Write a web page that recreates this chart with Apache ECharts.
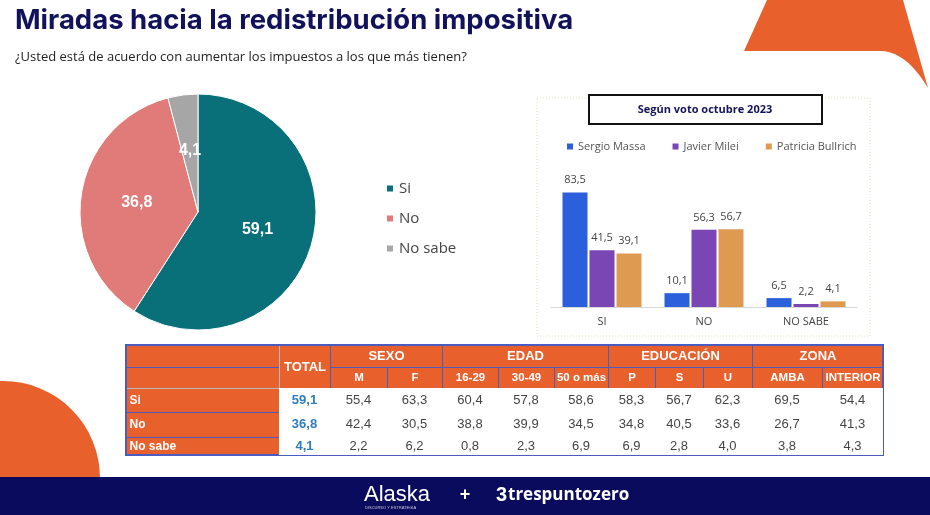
<!DOCTYPE html>
<html>
<head>
<meta charset="utf-8">
<script src="https://cdn.jsdelivr.net/npm/echarts@6/dist/echarts.min.js"></script>
<style>
  html, body { margin: 0; padding: 0; background: #fff; }
  #chart { width: 930px; height: 515px; }
</style>
</head>
<body>
<div id="chart"></div>
<script>
// respuestas generales
const respuestas = ['Si', 'No', 'No sabe']
const totales = [59.1, 36.8, 4.1]

// según voto octubre 2023
const votoCategorias = ['SI', 'NO', 'NO SABE']
const candidatos = ['Sergio Massa', 'Javier Milei', 'Patricia Bullrich']
const massa = [83.5, 10.1, 6.5]
const milei = [41.5, 56.3, 2.2]
const bullrich = [39.1, 56.7, 4.1]

// cruces de la tabla
const grupos = ['SEXO', 'EDAD', 'EDUCACIÓN', 'ZONA']
const subgrupos = [['M', 'F'], ['16-29', '30-49', '50 o más'], ['P', 'S', 'U'], ['AMBA', 'INTERIOR']]
const filaSi = [55.4, 63.3, 60.4, 57.8, 58.6, 58.3, 56.7, 62.3, 69.5, 54.4]
const filaNo = [42.4, 30.5, 38.8, 39.9, 34.5, 34.8, 40.5, 33.6, 26.7, 41.3]
const filaNoSabe = [2.2, 6.2, 0.8, 2.3, 6.9, 6.9, 2.8, 4.0, 3.8, 4.3]

// layout de la tabla (px)
const colWidths = [51, 57, 55, 56, 56, 54, 47, 48, 49, 70, 61]
const rowHeights = [24, 25, 18]

const naranja = '#e8602c'
const azulBorde = '#4b5cc0'
const fmt = v => v.toFixed(1).replace('.', ',')

const chart = echarts.init(document.getElementById('chart'), null, { renderer: 'canvas' })

const subLabel = { fontSize: 11.5, overflow: 'none' }
const xData = [{ value: 'TOTAL', size: colWidths[0] }]
let k = 1
grupos.forEach((g, i) => {
  xData.push({
    value: g,
    children: subgrupos[i].map(s => ({ value: s, size: colWidths[k++], label: subLabel }))
  })
})
const yData = respuestas.map((r, i) => ({ value: r, size: rowHeights[i] }))

const hojas = subgrupos.flat()
const filas = [filaSi, filaNo, filaNoSabe]
const crucesData = filas.flatMap((fila, ri) => fila.map((v, ci) => [hojas[ci], respuestas[ri], v]))
const totalData = totales.map((v, i) => ['TOTAL', respuestas[i], v])

// forma decorativa arriba a la derecha (borde inferior curvo)
const formaPts = [[767, 0], [903, 0], [928, 88]]
for (let t = 0.1; t < 1; t += 0.1) {
  const a = (1 - t) * (1 - t), b = 2 * t * (1 - t), c = t * t
  formaPts.push([a * 928 + b * 906 + c * 880, a * 88 + b * 51 + c * 51])
}
formaPts.push([880, 51], [744, 51])

const option = {
  animation: false,
  textStyle: { fontFamily: 'Liberation Sans' },
  title: [{
    text: 'Miradas hacia la redistribución impositiva',
    left: 10, top: 2,
    textStyle: { fontFamily: 'Inter', fontSize: 27.5, fontWeight: 'bold', color: '#12125c' },
    subtext: '¿Usted está de acuerdo con aumentar los impuestos a los que más tienen?',
    subtextStyle: { fontFamily: 'Open Sans', fontSize: 13, color: '#222' },
    itemGap: 16
  }],
  legend: [{
    data: respuestas,
    orient: 'vertical',
    left: 380, top: 176,
    icon: 'rect', itemWidth: 8, itemHeight: 8, itemGap: 15,
    textStyle: { fontFamily: 'Open Sans', fontSize: 15, color: '#444' }
  }, {
    data: candidatos,
    left: 562, top: 136,
    icon: 'rect', itemWidth: 6, itemHeight: 6, itemGap: 27,
    textStyle: { fontFamily: 'Open Sans', fontSize: 11, color: '#555' }
  }],
  grid: [{ left: 551, right: 73, top: 170, bottom: 208 }],
  xAxis: [{
    type: 'category', data: votoCategorias, gridIndex: 0,
    axisLine: { lineStyle: { color: '#d9d9d9' } },
    axisTick: { show: false },
    axisLabel: { fontFamily: 'Open Sans', fontSize: 11, color: '#444', margin: 9 }
  }],
  yAxis: [{ type: 'value', gridIndex: 0, min: 0, max: 100, show: false }],
  matrix: {
    left: 126, top: 345, width: 757, height: 110,
    x: {
      data: xData,
      levels: [{ levelSize: 22 }, { levelSize: 21 }],
      label: { color: '#fff', fontWeight: 'bold', fontSize: 13, overflow: 'none' },
      itemStyle: { color: naranja, borderColor: azulBorde, borderWidth: 1 }
    },
    y: {
      data: yData,
      levelSize: 153,
      label: { color: '#fff', fontWeight: 'bold', fontSize: 12, position: 'insideLeft', padding: [0, 0, 0, 3] },
      itemStyle: { color: naranja, borderColor: azulBorde, borderWidth: 1 }
    },
    corner: { itemStyle: { color: naranja, borderColor: azulBorde, borderWidth: 1 } },
    body: { itemStyle: { color: '#fff', borderColor: azulBorde, borderWidth: 1 } },
    backgroundStyle: { borderColor: azulBorde, borderWidth: 2 }
  },
  series: [{
    type: 'pie',
    name: 'Respuestas',
    center: [198, 212], radius: 118,
    startAngle: 90, clockwise: true,
    color: ['#09707a', '#e07b79', '#a6a6a6'],
    itemStyle: { borderColor: '#fff', borderWidth: 1 },
    label: {
      position: 'inside', formatter: p => fmt(p.value),
      color: '#fff', fontSize: 16, fontWeight: 'bold', fontFamily: 'Liberation Sans'
    },
    labelLine: { show: false },
    data: respuestas.map((r, i) => ({ name: r, value: totales[i] }))
  },
  ...[massa, milei, bullrich].map((d, i) => ({
    type: 'bar',
    name: candidatos[i],
    xAxisIndex: 0, yAxisIndex: 0,
    barWidth: 25, barGap: '8%',
    itemStyle: { color: ['#2b5fdc', '#7a46b4', '#de9a50'][i] },
    label: {
      show: true, position: 'top', distance: 7, formatter: p => fmt(p.value),
      fontFamily: 'Open Sans', fontSize: 11, color: '#444'
    },
    data: d
  })),
  {
    type: 'heatmap',
    name: 'TOTAL',
    coordinateSystem: 'matrix',
    itemStyle: { color: '#fff' },
    label: { show: true, formatter: p => fmt(p.value[2]), color: '#2d7cc0', fontWeight: 'bold', fontSize: 13 },
    data: totalData
  }, {
    type: 'heatmap',
    name: 'Cruces',
    coordinateSystem: 'matrix',
    itemStyle: { color: '#fff' },
    label: { show: true, formatter: p => fmt(p.value[2]), color: '#444', fontSize: 13 },
    data: crucesData
  }],
  graphic: [
    { type: 'polygon', shape: { points: formaPts }, style: { fill: naranja }, z: -1 },
    { type: 'circle', shape: { cx: 3, cy: 478, r: 97 }, style: { fill: naranja }, z: -1 },
    // marco del grafico de barras
    { type: 'rect', shape: { x: 537, y: 98, width: 333, height: 238 }, style: { fill: 'none', stroke: '#e9dcb8', lineWidth: 1, lineDash: [1, 2] }, z: -1 },
    { type: 'rect', shape: { x: 589, y: 95, width: 233, height: 29 }, style: { fill: '#fff', stroke: '#111', lineWidth: 2 }, z: 5 },
    { type: 'text', x: 705, y: 110, style: { text: 'Según voto octubre 2023', fill: '#14145c', font: 'bold 11px "Open Sans"', align: 'center', verticalAlign: 'middle' }, z: 6 },
    // pie de pagina
    { type: 'rect', shape: { x: 0, y: 477, width: 930, height: 38 }, style: { fill: '#0b0b5e' }, z: 10 },
    { type: 'text', x: 364, y: 495, style: { text: 'Alaska', fill: '#fff', font: '22px "Liberation Sans"', verticalAlign: 'middle' }, z: 11 },
    { type: 'text', x: 365, y: 508, style: { text: 'DISCURSO Y ESTRATEGIA', fill: '#ccd', font: '4px "Liberation Sans"', verticalAlign: 'middle' }, z: 11 },
    { type: 'text', x: 465, y: 495, style: { text: '+', fill: '#fff', font: 'bold 18px "Liberation Sans"', align: 'center', verticalAlign: 'middle' }, z: 11 },
    { type: 'text', x: 496, y: 495, style: { text: '3', fill: '#fff', font: 'bold 20px "Liberation Sans"', verticalAlign: 'middle' }, z: 11 },
    { type: 'text', x: 508, y: 495, style: { text: 'trespuntozero', fill: '#fff', font: 'bold 17px "Open Sans"', verticalAlign: 'middle' }, z: 11 }
  ]
}

chart.setOption(option)
</script>
</body>
</html>
